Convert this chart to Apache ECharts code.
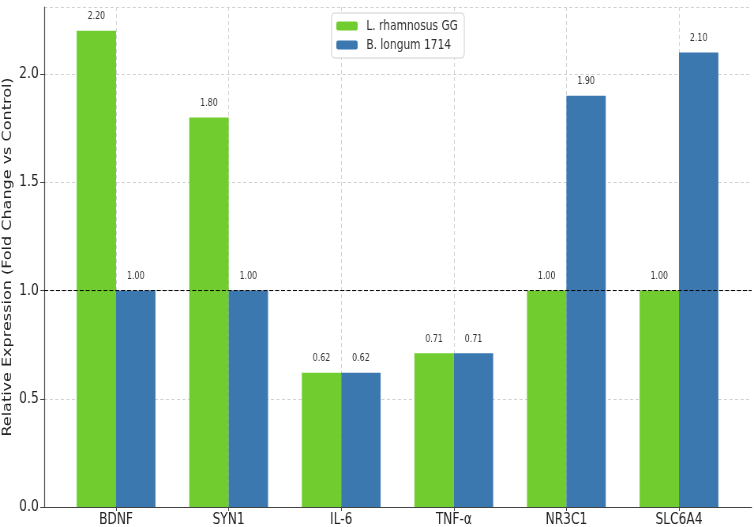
<!DOCTYPE html>
<html>
<head>
<meta charset="utf-8">
<script src="https://cdn.jsdelivr.net/npm/echarts@6/dist/echarts.min.js"></script>
<style>
  html, body { margin: 0; padding: 0; background: #fff; overflow: hidden; }
  /* the reference is a horizontally squeezed figure: draw wide, then squeeze */
  #chart { width: 955px; height: 527px; transform: scaleX(0.7895); transform-origin: 0 0; }
</style>
</head>
<body>
<div id="chart"></div>
<script>
const genes = ['BDNF', 'SYN1', 'IL-6', 'TNF-\u03b1', 'NR3C1', 'SLC6A4'];
const lggValues = [2.20, 1.80, 0.62, 0.71, 1.00, 1.00];
const blValues = [1.00, 1.00, 0.62, 0.71, 1.90, 2.10];
const baseline = 1.0;

const chart = echarts.init(document.getElementById('chart'));
const font = 'DejaVu Sans';

const barLabel = {
    show: true,
    position: 'top',
    distance: 9,
    fontFamily: font,
    fontSize: 10,
    color: '#333',
    formatter: p => p.value.toFixed(2)
};

const option = {
    animation: false,
    textStyle: { fontFamily: font },
    grid: [
        // full plot frame: y axis, horizontal grid, bottom spine
        { left: 56, right: 3, top: 7, bottom: 20, outerBoundsMode: 'none' },
        // category band area
        { left: 147, width: 713, top: 7, bottom: 20, outerBoundsMode: 'none' }
    ],
    legend: {
        orient: 'vertical',
        left: 420,
        top: 13,
        padding: [6, 8, 6, 6],
        itemWidth: 27,
        itemHeight: 9,
        itemGap: 5,
        backgroundColor: '#fff',
        borderColor: '#d0d0d0',
        borderWidth: 1,
        borderRadius: 4,
        textStyle: { fontFamily: font, fontSize: 13.5, color: '#333', padding: [0, 0, 0, 6] },
        data: ['L. rhamnosus GG', 'B. longum 1714']
    },
    xAxis: [
        {
            type: 'value', gridIndex: 0, min: 0, max: 1,
            axisLine: { show: true, lineStyle: { color: '#444', width: 1.2 } },
            axisTick: { show: false },
            axisLabel: { show: false },
            splitLine: { show: false }
        },
        {
            type: 'category', gridIndex: 1, data: genes, boundaryGap: false,
            axisLine: { show: false },
            axisTick: { show: true, length: 4, lineStyle: { color: '#444' } },
            axisLabel: { fontFamily: font, fontSize: 15.5, color: '#222', margin: 5 },
            splitLine: { show: true, lineStyle: { type: [4, 3], color: '#d2d2d2' } }
        }
    ],
    yAxis: [
        {
            type: 'value', gridIndex: 0, min: 0, max: 2.31, interval: 0.5,
            name: 'Relative Expression (Fold Change vs Control)',
            nameLocation: 'middle',
            nameGap: 38,
            nameMoveOverlap: false,
            nameTextStyle: { fontFamily: font, fontSize: 16, color: '#222' },
            axisLine: { show: true, lineStyle: { color: '#444', width: 1.2 } },
            axisTick: { show: true, length: 5, lineStyle: { color: '#444' } },
            axisLabel: {
                fontFamily: font, fontSize: 15.5, color: '#222', margin: 7,
                showMaxLabel: false,
                formatter: v => v.toFixed(1)
            },
            splitLine: { show: true, lineStyle: { type: [4, 3], color: '#d2d2d2' } }
        },
        {
            type: 'value', gridIndex: 1, min: 0, max: 2.31, show: false,
            splitLine: { show: false }
        }
    ],
    series: [
        {
            name: 'L. rhamnosus GG',
            type: 'bar',
            xAxisIndex: 1, yAxisIndex: 1,
            data: lggValues,
            barWidth: 49.9,
            barGap: '0%',
            clip: false,
            itemStyle: { color: '#71cd2f' },
            label: barLabel
        },
        {
            name: 'B. longum 1714',
            type: 'bar',
            xAxisIndex: 1, yAxisIndex: 1,
            data: blValues,
            barWidth: 49.9,
            barGap: '0%',
            clip: false,
            itemStyle: { color: '#3c78b0' },
            label: barLabel
        },
        {
            name: 'baseline',
            type: 'line',
            xAxisIndex: 0, yAxisIndex: 0,
            data: [[0, baseline], [1, baseline]],
            symbol: 'none',
            silent: true,
            z: 5,
            lineStyle: { color: '#000', width: 1, type: [5, 2.5] }
        }
    ]
};

chart.setOption(option);
</script>
</body>
</html>
